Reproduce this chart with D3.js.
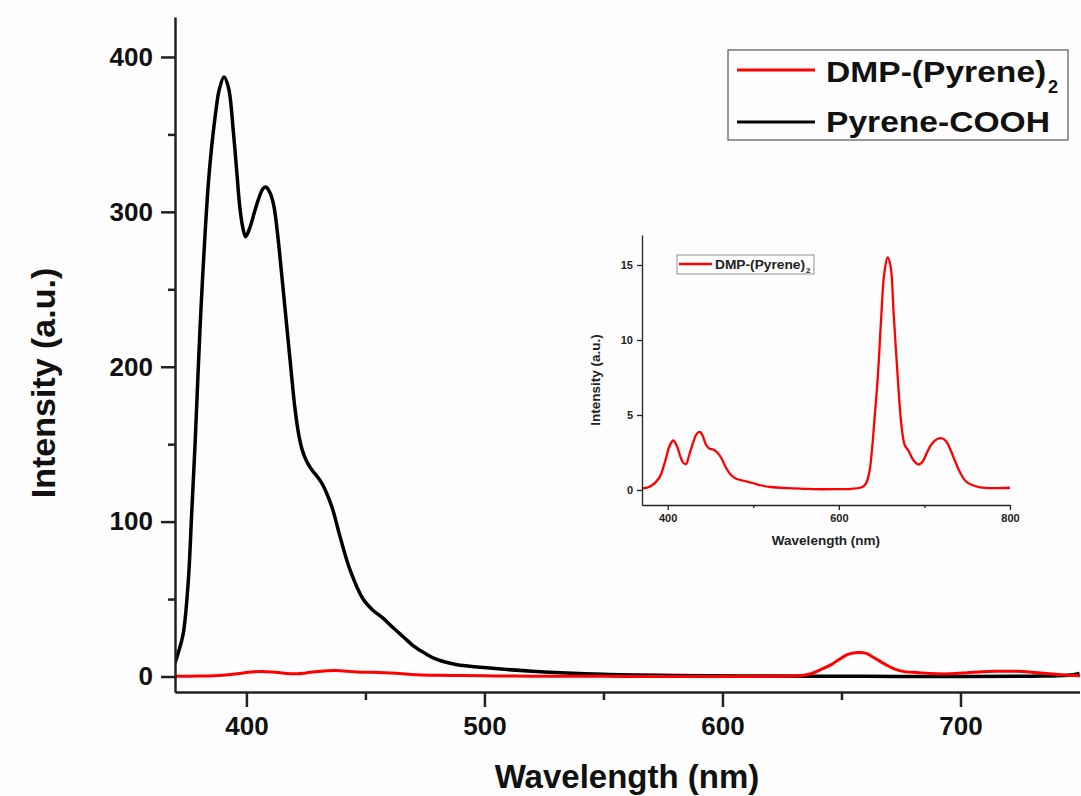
<!DOCTYPE html>
<html>
<head>
<meta charset="utf-8">
<script src="https://cdn.jsdelivr.net/npm/d3@7"></script>
<style>
  html, body { margin: 0; padding: 0; background: #fdfdfd; }
  svg { display: block; font-family: "Liberation Sans", Arial, sans-serif; font-weight: bold; }
</style>
</head>
<body>
<svg id="chart" width="1081" height="796"></svg>
<script>
// Pyrene-COOH emission spectrum (wavelength in nm, intensity in a.u.)
const pyreneWl = [370, 371.5, 373.5, 375.6, 377, 378.4, 379.8, 381, 382.6, 384, 385.4, 387, 388.6, 390.6,
  392.5, 394.5, 396, 397.3, 398.6, 399.7, 401.5, 403.6, 405.5, 407, 408.2, 410, 411.5, 413, 414.8, 416.2,
  417.6, 419, 420.4, 422, 423.5, 425, 427, 431.6, 435.8, 439.3, 443.5, 449, 453, 457.5, 462, 466, 470,
  475, 480, 488, 501, 520, 550, 580, 620, 660, 700, 730, 745, 750];
const pyreneI = [8.8, 16, 28, 62, 105, 149, 200, 240, 285, 318, 342, 363, 379, 387,
  380, 352, 325, 302, 289, 284, 290, 301, 310, 315, 316, 312, 304, 287, 260, 238,
  216, 194, 173, 156, 146, 140, 134.5, 125, 110, 90.5, 69, 50, 43, 37.5, 31, 25.5, 20,
  15, 11, 7.8, 5.6, 3.4, 1.4, 0.7, 0.3, 0.1, 0, 0.2, 0.8, 2];

// DMP-(Pyrene)2 emission spectrum
const dmpWl = [370, 380, 390, 397, 402, 406.5, 411, 415, 418.5, 421.5, 425, 430, 434, 437.8, 441, 445, 449,
  453, 458, 463, 468, 474, 480, 490, 500, 510, 520, 540, 560, 580, 600, 615, 625, 630, 633, 636, 638.6,
  641.5, 645.7, 649.5, 653, 657, 660.5, 664, 668.6, 673, 677, 681.6, 687, 693, 698, 703, 709, 715, 720.5,
  726, 731, 736, 742, 748, 755.6, 765, 780, 800];
const dmpI = [0.1, 0.25, 0.8, 1.9, 2.9, 3.3, 2.9, 2.2, 1.8, 1.73, 2.3, 3.2, 3.75, 3.87, 3.6, 3.0, 2.75,
  2.7, 2.5, 2.1, 1.5, 1.0, 0.75, 0.6, 0.45, 0.3, 0.2, 0.12, 0.08, 0.05, 0.06, 0.08, 0.15, 0.3, 0.6, 1.3, 2.6,
  4.6, 7.7, 11.5, 14.4, 15.5, 14.9, 11.8, 7.7, 4.4, 3.0, 2.6, 2.0, 1.7, 1.9, 2.5, 3.1, 3.4, 3.45,
  3.2, 2.6, 1.9, 1.13, 0.6, 0.33, 0.18, 0.12, 0.15];

// Axis ticks
const mainXTicks = [400, 500, 600, 700];
const mainXMinor = [450, 550, 650];
const mainYTicks = [0, 100, 200, 300, 400];
const mainYMinor = [50, 150, 250, 350];
const insetXTicks = [400, 600, 800];
const insetXMinor = [500, 700];
const insetYTicks = [0, 5, 10, 15];

const seriesNames = ["DMP-(Pyrene)", "Pyrene-COOH"];
const seriesColors = ["#ff0000", "#000000"];

const svg = d3.select("#chart");
const axisColor = "#222";

const dmpData = dmpWl.map((w, i) => ({ w, v: dmpI[i] }));
const pyreneData = pyreneWl.map((w, i) => ({ w, v: pyreneI[i] }));

// ---------- main plot ----------
const x = d3.scaleLinear().domain([370, 750]).range([175, 1079.5]);
const y = d3.scaleLinear().domain([-10, 425.8]).range([692, 17]);

svg.append("clipPath").attr("id", "mainClip")
  .append("rect").attr("x", 175).attr("y", 0).attr("width", 905).attr("height", 692);

const line = d3.line().x(d => x(d.w)).y(d => y(d.v)).curve(d3.curveCatmullRom.alpha(0.5));

const plot = svg.append("g").attr("clip-path", "url(#mainClip)");
plot.append("path").datum(pyreneData).attr("d", line)
  .attr("fill", "none").attr("stroke", seriesColors[1]).attr("stroke-width", 3.5);
plot.append("path").datum(dmpData).attr("d", line)
  .attr("fill", "none").attr("stroke", seriesColors[0]).attr("stroke-width", 3);

function styleAxis(g, sw) {
  g.select(".domain").attr("stroke", axisColor).attr("stroke-width", sw);
  g.selectAll(".tick line").attr("stroke", axisColor).attr("stroke-width", sw);
}

const xAxis = svg.append("g").attr("transform", "translate(0,692)")
  .call(d3.axisBottom(x).tickValues(mainXTicks).tickSize(15).tickSizeOuter(0).tickPadding(10));
xAxis.selectAll("text").attr("font-size", 26).attr("font-family", "Liberation Sans").attr("font-weight", "bold").attr("fill", "#111");
styleAxis(xAxis, 2.5);
const xMinor = svg.append("g").attr("transform", "translate(0,692)")
  .call(d3.axisBottom(x).tickValues(mainXMinor).tickSize(8).tickFormat(""));
xMinor.select(".domain").remove();
styleAxis(xMinor, 2.5);

const yAxis = svg.append("g").attr("transform", "translate(175,0)")
  .call(d3.axisLeft(y).tickValues(mainYTicks).tickSize(14).tickSizeOuter(0).tickPadding(8));
yAxis.selectAll("text").attr("font-size", 26).attr("font-family", "Liberation Sans").attr("font-weight", "bold").attr("fill", "#111");
styleAxis(yAxis, 2.5);
const yMinor = svg.append("g").attr("transform", "translate(175,0)")
  .call(d3.axisLeft(y).tickValues(mainYMinor).tickSize(7).tickFormat(""));
yMinor.select(".domain").remove();
styleAxis(yMinor, 2.5);

svg.append("text").attr("x", 627).attr("y", 788).attr("text-anchor", "middle")
  .attr("font-size", 33).attr("fill", "#111").text("Wavelength (nm)");
svg.append("text").attr("transform", "translate(55,383) rotate(-90)").attr("text-anchor", "middle")
  .attr("font-size", 34).attr("fill", "#111").text("Intensity (a.u.)");

// legend
const leg = svg.append("g");
leg.append("rect").attr("x", 728).attr("y", 50).attr("width", 340).attr("height", 90)
  .attr("fill", "#fdfdfd").attr("stroke", "#555").attr("stroke-width", 1.2);
[0, 1].forEach(i => {
  const ly = i === 0 ? 70 : 122;
  leg.append("line").attr("x1", 737).attr("x2", 815).attr("y1", ly).attr("y2", ly)
    .attr("stroke", seriesColors[i]).attr("stroke-width", 3);
});
leg.append("text").attr("transform", "translate(826,82) scale(1.12,1)")
  .attr("font-size", 30).attr("fill", "#111").text(seriesNames[0]);
leg.append("text").attr("x", 1048).attr("y", 93).attr("font-size", 18).attr("fill", "#111").text("2");
leg.append("text").attr("transform", "translate(826,132) scale(1.12,1)")
  .attr("font-size", 30).attr("fill", "#111").text(seriesNames[1]);

// ---------- inset ----------
const ix = d3.scaleLinear().domain([370, 800]).range([642, 1010]);
const iy = d3.scaleLinear().domain([-1, 17]).range([505, 235]);
const iline = d3.line().x(d => ix(d.w)).y(d => iy(d.v)).curve(d3.curveCatmullRom.alpha(0.5));

svg.append("path").datum(dmpData).attr("d", iline)
  .attr("fill", "none").attr("stroke", seriesColors[0]).attr("stroke-width", 2.3);

const ixAxis = svg.append("g").attr("transform", "translate(0,505)")
  .call(d3.axisBottom(ix).tickValues(insetXTicks).tickSize(5).tickSizeOuter(0).tickPadding(4));
ixAxis.selectAll("text").attr("font-size", 11).attr("font-family", "Liberation Sans").attr("font-weight", "bold").attr("fill", "#222");
styleAxis(ixAxis, 1.3);
const ixMinor = svg.append("g").attr("transform", "translate(0,505)")
  .call(d3.axisBottom(ix).tickValues(insetXMinor).tickSize(3).tickFormat(""));
ixMinor.select(".domain").remove();
styleAxis(ixMinor, 1.3);

const iyAxis = svg.append("g").attr("transform", "translate(642,0)")
  .call(d3.axisLeft(iy).tickValues(insetYTicks).tickSize(5).tickSizeOuter(0).tickPadding(4));
iyAxis.selectAll("text").attr("font-size", 11).attr("font-family", "Liberation Sans").attr("font-weight", "bold").attr("fill", "#222");
styleAxis(iyAxis, 1.3);

svg.append("text").attr("x", 826).attr("y", 545).attr("text-anchor", "middle")
  .attr("font-size", 13.5).attr("fill", "#222").text("Wavelength (nm)");
svg.append("text").attr("transform", "translate(600,380) rotate(-90)").attr("text-anchor", "middle")
  .attr("font-size", 13.5).attr("fill", "#222").text("Intensity (a.u.)");

const ileg = svg.append("g");
ileg.append("rect").attr("x", 677).attr("y", 255).attr("width", 137).attr("height", 19)
  .attr("fill", "#fdfdfd").attr("stroke", "#777").attr("stroke-width", 0.8);
ileg.append("line").attr("x1", 679).attr("x2", 712).attr("y1", 264).attr("y2", 264)
  .attr("stroke", seriesColors[0]).attr("stroke-width", 2.3);
ileg.append("text").attr("transform", "translate(715,268.5) scale(1.1,1)")
  .attr("font-size", 12.5).attr("fill", "#222").text(seriesNames[0]);
ileg.append("text").attr("x", 806).attr("y", 272.5).attr("font-size", 8).attr("fill", "#222").text("2");
</script>
</body>
</html>
